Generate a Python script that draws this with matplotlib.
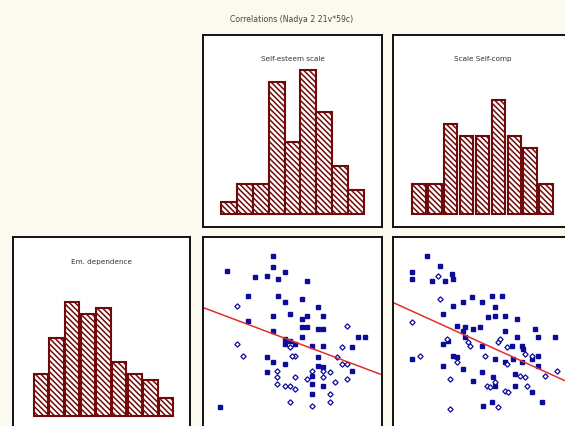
import matplotlib
matplotlib.use("Agg")
import matplotlib.pyplot as plt
import numpy as np

FIG_W, FIG_H = 565, 427

TITLE = "Correlations (Nadya 2 21v*59c)"

# histogram counts (9 bins each)
self_esteem_counts = [2, 5, 5, 22, 12, 24, 17, 8, 4]
self_comp_counts = [5, 5, 15, 13, 13, 19, 13, 11, 5]
em_dep_counts = [7, 13, 19, 17, 18, 9, 7, 6, 3]

# scatter: self-esteem (x) vs em. dependence (y)
se_x_filled = [47, 19, 47, 54, 43, 36, 50, 67, 32, 50, 54, 64, 74, 57, 47, 67, 77, 64, 32, 67,
               64, 47, 74, 77, 98, 102, 64, 54, 54, 57, 60, 70, 77, 94, 43, 47, 74, 74, 43, 54,
               70, 94, 77, 70, 77, 70, 15]
se_y_filled = [104, 95, 97, 94, 92, 91, 90, 89, 80, 80, 76, 78, 73, 69, 68, 68, 68, 66, 65, 61,
               61, 59, 60, 60, 55, 55, 55, 54, 51, 53, 51, 50, 50, 49, 43, 40, 43, 38, 34, 39,
               32, 35, 37, 27, 26, 21, 13]
se_x_open = [25, 91, 25, 29, 57, 60, 58, 88, 85, 88, 91, 49, 49, 49, 54, 57, 60, 60, 70, 77,
             81, 77, 67, 84, 91, 81, 81, 57, 70]
se_y_open = [74, 62, 51, 44, 49, 44, 44, 49, 43, 39, 39, 35, 31, 27, 26, 26, 24, 31, 35, 35,
             34, 31, 30, 28, 30, 21, 16, 16, 14]

# scatter: self-comp (x) vs em. dependence (y)
sc_x_filled = [25, 16, 16, 40, 41, 36, 28, 33, 64, 70, 52, 47, 41, 58, 66, 66, 62, 72, 79, 35,
               43, 48, 47, 53, 57, 90, 92, 102, 79, 72, 38, 35, 48, 58, 76, 82, 83, 58, 41, 43,
               35, 47, 53, 66, 72, 77, 82, 88, 92, 92, 88, 94, 64, 59, 78, 65, 66, 78, 16]
sc_y_filled = [104, 94, 90, 93, 90, 89, 89, 98, 80, 80, 79, 76, 74, 76, 73, 68, 67, 68, 66, 69,
               62, 61, 59, 60, 61, 60, 55, 55, 55, 59, 53, 51, 55, 50, 50, 50, 48, 34, 44, 43,
               38, 36, 29, 42, 40, 42, 40, 42, 44, 38, 22, 16, 16, 14, 33, 31, 26, 26, 42]
sc_x_open = [32, 33, 16, 21, 50, 51, 37, 60, 68, 69, 43, 73, 39, 66, 61, 63, 72, 74, 81, 84,
             85, 88, 96, 103, 39, 68, 84, 73]
sc_y_open = [92, 78, 64, 44, 52, 50, 54, 44, 52, 54, 40, 39, 30, 28, 26, 25, 23, 22, 32, 31,
             26, 44, 32, 35, 12, 13, 45, 49]

# fitted lines (intercept, slope)
se_fit = (74.7, -0.376)
sc_fit = (78.1, -0.455)

BG = "#fcf9ee"
BAR_RED = "#700a0a"
DOT_BLUE = "#0c0c9a"
LINE_RED = "#e0302a"


# axes box given in pixels of the picture (left, top, right, bottom)
def make_panel(fig, left, top, right, bottom):
    ax = fig.add_axes([left / FIG_W, 1 - bottom / FIG_H,
                       (right - left) / FIG_W, (bottom - top) / FIG_H])
    ax.set_facecolor("white")
    ax.set_xticks([])
    ax.set_yticks([])
    for sp in ax.spines.values():
        sp.set_linewidth(1.4)
        sp.set_color("#111111")
    return ax


def panel_title(ax, text, y=0.88):
    ax.text(0.5, y, text, transform=ax.transAxes, ha="center", va="center",
            fontsize=5.2, color="#333333")


def draw_hist(ax, counts, width, xlim, ylim):
    ax.bar(np.arange(len(counts)), counts, width=width, color="white",
           edgecolor=BAR_RED, linewidth=1.5, hatch="\\\\\\\\\\\\")
    ax.set_xlim(*xlim)
    ax.set_ylim(*ylim)


def draw_scatter(ax, xf, yf, xo, yo, fit):
    ax.plot(xf, yf, "s", ms=2.7, color=DOT_BLUE, mec=DOT_BLUE, ls="none")
    ax.plot(xo, yo, "D", ms=2.7, mfc="white", mec=DOT_BLUE, mew=0.9, ls="none")
    xs = np.array([4.8, 112.2])
    ax.plot(xs, fit[0] + fit[1] * xs, color=LINE_RED, lw=1.1)
    ax.set_xlim(4.8, 112.2)
    ax.set_ylim(0, 115.2)


def main():
    plt.rcParams["hatch.linewidth"] = 1.1
    fig = plt.figure(figsize=(FIG_W / 100, FIG_H / 100), dpi=100)
    fig.patch.set_facecolor(BG)

    fig.text(292 / FIG_W, 1 - 20 / FIG_H, TITLE, ha="center", va="center",
             fontsize=5.6, color="#444444")

    ax1 = make_panel(fig, 203, 36, 382, 228)
    draw_hist(ax1, self_esteem_counts, 1.0, (-1.63, 9.63), (-2.17, 29.8))
    panel_title(ax1, "Self-esteem scale")

    ax2 = make_panel(fig, 393, 36, 572, 228)
    draw_hist(ax2, self_comp_counts, 0.85, (-1.63, 9.63), (-2.17, 29.8))
    panel_title(ax2, "Scale Self-comp")

    ax3 = make_panel(fig, 13, 238, 190, 430)
    draw_hist(ax3, em_dep_counts, 0.92, (-1.78, 9.52), (-2.2, 29.8))
    panel_title(ax3, "Em. dependence", y=0.875)

    ax4 = make_panel(fig, 203, 238, 382, 430)
    draw_scatter(ax4, se_x_filled, se_y_filled, se_x_open, se_y_open, se_fit)

    ax5 = make_panel(fig, 393, 238, 572, 430)
    draw_scatter(ax5, sc_x_filled, sc_y_filled, sc_x_open, sc_y_open, sc_fit)

    fig.savefig("out.png", dpi=100, facecolor=BG)


if __name__ == "__main__":
    main()
